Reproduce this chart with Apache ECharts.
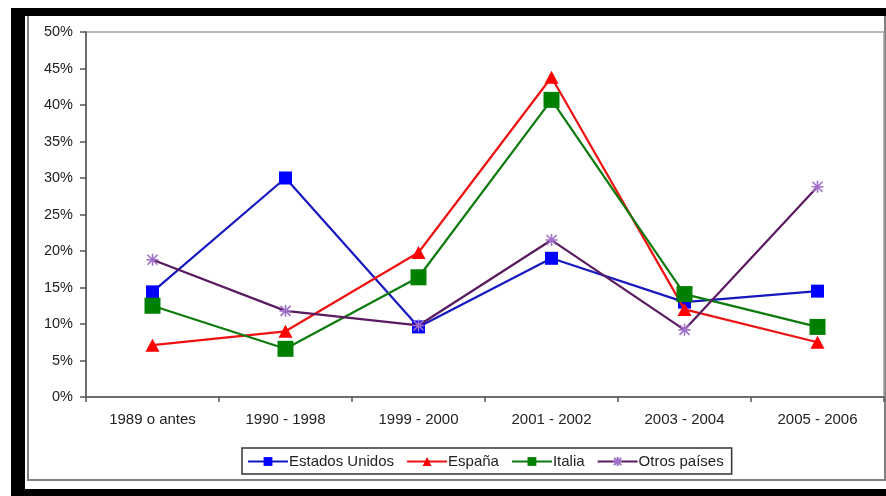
<!DOCTYPE html>
<html>
<head>
<meta charset="utf-8">
<title>Distribución por periodo de llegada</title>
<script src="https://cdn.jsdelivr.net/npm/echarts@6/dist/echarts.min.js"></script>
<style>
  html, body { margin: 0; padding: 0; background: #ffffff; }
  #chart { width: 886px; height: 496px; }
</style>
</head>
<body>
<div id="chart"></div>
<script>
// Periods on the horizontal axis
const categories = ['1989 o antes', '1990 - 1998', '1999 - 2000', '2001 - 2002', '2003 - 2004', '2005 - 2006'];

// Share (%) per period for each country of origin
const estadosUnidos = [14.4, 30.0, 9.6, 19.0, 13.0, 14.5];
const espana        = [7.1, 9.0, 19.8, 43.8, 12.0, 7.5];
const italia        = [12.5, 6.6, 16.4, 40.7, 14.1, 9.6];
const otrosPaises   = [18.8, 11.8, 9.8, 21.5, 9.2, 28.8];

// Axis settings
const yMin = 0, yMax = 50, yStep = 5;

const FONT = '"Liberation Sans", Arial, sans-serif';

// Asterisk marker built from strokes
const starPath = 'path://M0,0L10,10M10,0L0,10M5,-1L5,11M-1,5L11,5';

const chart = echarts.init(document.getElementById('chart'), null, { renderer: 'canvas' });

chart.setOption({
  backgroundColor: '#ffffff',
  animation: false,
  textStyle: { fontFamily: FONT },
  graphic: [
    // dark frame around the figure
    { type: 'rect', z: -10, shape: { x: 11, y: 8, width: 875, height: 8 }, style: { fill: '#000000' } },
    { type: 'rect', z: -10, shape: { x: 11, y: 8, width: 14, height: 488 }, style: { fill: '#000000' } },
    { type: 'rect', z: -10, shape: { x: 11, y: 489, width: 875, height: 7 }, style: { fill: '#000000' } },
    // chart area border
    { type: 'polyline', z: -9, shape: { points: [[28, 16], [28, 480], [885, 480], [885, 16]] },
      style: { stroke: '#808080', lineWidth: 2, fill: null } }
  ],
  grid: {
    left: 86, right: 2, top: 32, bottom: 99,
    show: true, borderColor: '#a0a0a0', borderWidth: 1.5, backgroundColor: '#ffffff'
  },
  legend: {
    left: 242, top: 448,
    padding: [6, 8, 5, 5],
    itemGap: 12,
    itemWidth: 40, itemHeight: 11,
    borderColor: '#333333', borderWidth: 1.5,
    textStyle: { fontFamily: FONT, fontSize: 15, color: '#222222', padding: [0, 0, 0, -4] },
    data: ['Estados Unidos', 'España', 'Italia', 'Otros países']
  },
  xAxis: {
    type: 'category',
    data: categories,
    boundaryGap: true,
    axisLine: { lineStyle: { color: '#555555', width: 1.5 } },
    axisTick: { show: true, inside: false, length: 5, alignWithLabel: false, lineStyle: { color: '#555555', width: 1.5 } },
    axisLabel: { fontFamily: FONT, fontSize: 15, color: '#222222', margin: 15 },
    splitLine: { show: false }
  },
  yAxis: {
    type: 'value',
    min: yMin, max: yMax, interval: yStep,
    axisLine: { show: true, lineStyle: { color: '#555555', width: 1.5 } },
    axisTick: { show: true, inside: false, length: 6, lineStyle: { color: '#555555', width: 1.5 } },
    axisLabel: { fontFamily: FONT, fontSize: 14.5, color: '#222222', margin: 13, formatter: '{value}%' },
    splitLine: { show: false }
  },
  series: [
    {
      name: 'Estados Unidos', type: 'line', data: estadosUnidos, z: 2,
      symbol: 'rect', symbolSize: 13, showAllSymbol: true,
      lineStyle: { color: '#1818c0', width: 2.2 },
      itemStyle: { color: '#0000ff', borderWidth: 0 }
    },
    {
      name: 'España', type: 'line', data: espana, z: 3,
      symbol: 'triangle', symbolSize: [14, 13],
      lineStyle: { color: '#ee1111', width: 2.2 },
      itemStyle: { color: '#ff0000', borderWidth: 0 }
    },
    {
      name: 'Italia', type: 'line', data: italia, z: 4,
      symbol: 'rect', symbolSize: 16,
      lineStyle: { color: '#0c7a0c', width: 2.2 },
      itemStyle: { color: '#008000', borderWidth: 0 }
    },
    {
      name: 'Otros países', type: 'line', data: otrosPaises, z: 5,
      symbol: starPath, symbolSize: 12,
      lineStyle: { color: '#5a1a60', width: 2.2 },
      itemStyle: { color: 'rgba(0,0,0,0)', borderColor: '#a070c8', borderWidth: 1.6 }
    }
  ]
});
</script>
</body>
</html>
